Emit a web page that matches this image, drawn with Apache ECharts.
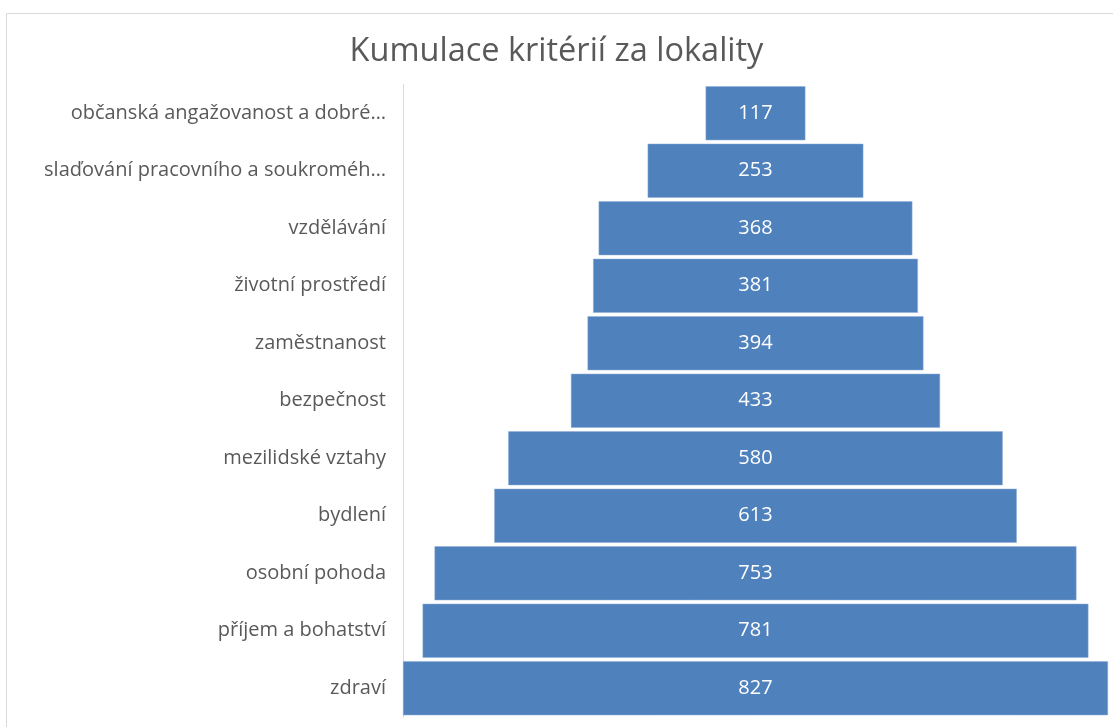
<!DOCTYPE html>
<html><head><meta charset="utf-8">
<script src="https://cdn.jsdelivr.net/npm/echarts@6/dist/echarts.min.js"></script>
<style>html,body{margin:0;padding:0;background:#fff}#c{width:1113px;height:727px}</style>
</head><body><div id="c"></div>
<script>
const categories = [
  "zdraví",
  "příjem a bohatství",
  "osobní pohoda",
  "bydlení",
  "mezilidské vztahy",
  "bezpečnost",
  "zaměstnanost",
  "životní prostředí",
  "vzdělávání",
  "slaďování pracovního a soukroméh…",
  "občanská angažovanost a dobré…"
];
const values = [827, 781, 753, 613, 580, 433, 394, 381, 368, 253, 117];
const maxValue = Math.max(...values);
const offsets = values.map(v => (maxValue - v) / 2);

const chart = echarts.init(document.getElementById('c'), null, {renderer: 'canvas'});
chart.setOption({
  animation: false,
  backgroundColor: '#fff',
  title: {
    text: 'Kumulace kritérií za lokality',
    left: 'center', top: 30,
    textStyle: {fontFamily: 'Open Sans', fontWeight: 'normal', fontSize: 32.5, color: '#595959'}
  },
  graphic: [{
    type: 'rect', left: 4, top: 11, z: -1,
    shape: {width: 1120, height: 730},
    style: {fill: 'none', stroke: '#d9d9d9', lineWidth: 1}
  }],
  grid: {left: 403, top: 84.5, width: 705, height: 632.5},
  xAxis: {type: 'value', min: 0, max: maxValue, show: false, splitLine: {show: false}},
  yAxis: {
    type: 'category', data: categories,
    axisLine: {show: true, lineStyle: {color: '#d9d9d9', width: 1}},
    axisTick: {show: false},
    axisLabel: {fontFamily: 'Open Sans', fontSize: 20, color: '#595959', margin: 17}
  },
  series: [
    {type: 'bar', stack: 'f', data: offsets, itemStyle: {color: 'transparent'}, barCategoryGap: '6%', silent: true},
    {type: 'bar', stack: 'f', data: values, barCategoryGap: '6%',
     itemStyle: {color: '#4f81bd', borderColor: '#8fb0d8', borderWidth: 0.5},
     label: {show: true, position: 'inside', color: '#fff', fontFamily: 'Open Sans', fontSize: 20}}
  ]
});
</script></body></html>
